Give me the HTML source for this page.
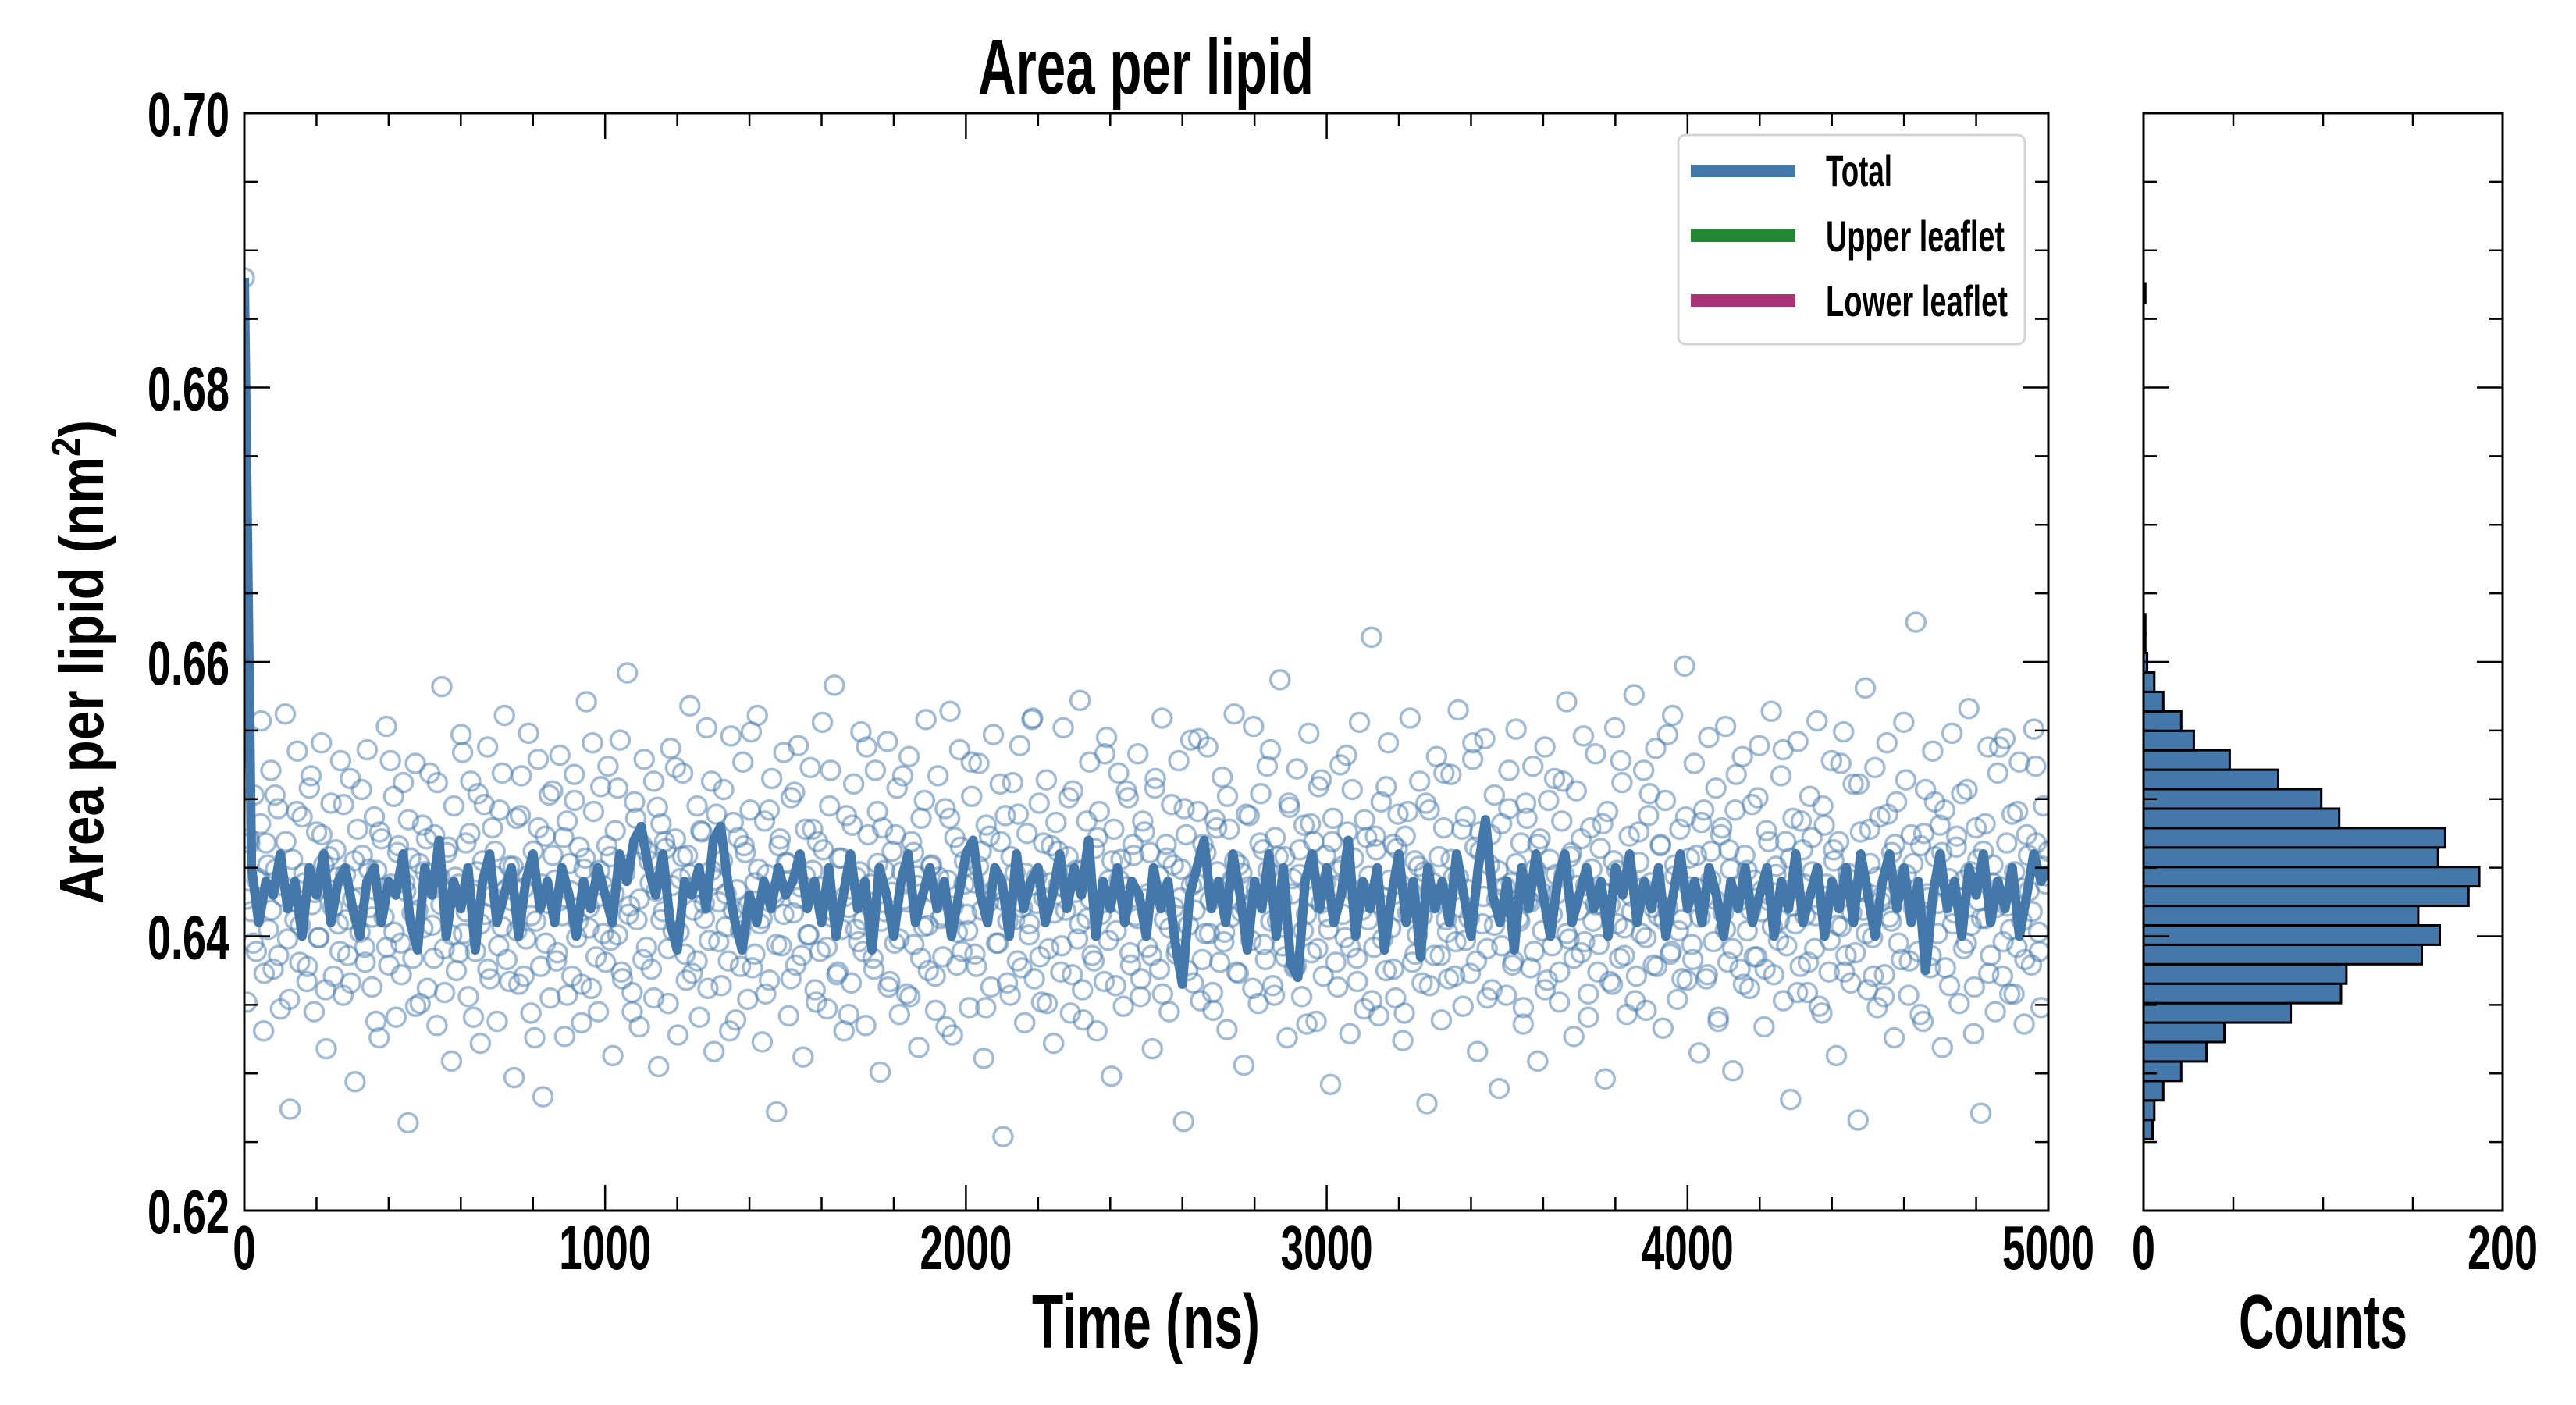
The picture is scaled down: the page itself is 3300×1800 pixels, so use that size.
<!DOCTYPE html>
<html><head><meta charset="utf-8"><style>
html,body{margin:0;padding:0;background:#fff;}
svg{display:block;}
text{font-family:"Liberation Sans Narrow","Liberation Sans",sans-serif;font-weight:bold;fill:#000;}
</style></head><body>
<svg id="chart" width="3300" height="1800" viewBox="0 0 3300 1800" xmlns="http://www.w3.org/2000/svg">
<defs><clipPath id="mainclip"><rect x="313" y="145" width="2311" height="1406"/></clipPath></defs>
<rect x="0" y="0" width="3300" height="1800" fill="#fff"/>
<text x="1468" y="120" font-size="100" text-anchor="middle" textLength="430" lengthAdjust="spacingAndGlyphs">Area per lipid</text>
<g id="scatter" clip-path="url(#mainclip)"></g>
<g id="line" clip-path="url(#mainclip)"></g>
<g id="hist"></g>
<g id="axes"></g>
<text transform="translate(132,848) rotate(-90)" style="font-family:'Liberation Sans',sans-serif" font-size="80" text-anchor="middle" textLength="620" lengthAdjust="spacingAndGlyphs">Area per lipid (nm<tspan font-size="52" dy="-30">2</tspan><tspan dy="30">)</tspan></text>
<text x="1468" y="1727" font-size="98" text-anchor="middle" textLength="292" lengthAdjust="spacingAndGlyphs">Time (ns)</text>
<text x="2976" y="1727" font-size="98" text-anchor="middle" textLength="216" lengthAdjust="spacingAndGlyphs">Counts</text>
<g>
<rect x="2150" y="173" width="444" height="268" rx="9" fill="#fff" stroke="#d4d4d4" stroke-width="3"/>
<g><rect x="2166" y="211" width="134" height="16" fill="#4477aa"/><text x="2339" y="238" font-size="56" textLength="85" lengthAdjust="spacingAndGlyphs">Total</text></g>
<g><rect x="2166" y="294" width="134" height="16" fill="#228833"/><text x="2339" y="322" font-size="56" textLength="229" lengthAdjust="spacingAndGlyphs">Upper leaflet</text></g>
<g><rect x="2166" y="377" width="134" height="16" fill="#aa3377"/><text x="2339" y="405" font-size="56" textLength="233" lengthAdjust="spacingAndGlyphs">Lower leaflet</text></g>
</g>
</svg>
<script>
const lineValues=[.688,.645,.641,.644,.643,.646,.642,.644,.640,.645,
.643,.646,.641,.644,.645,.642,.640,.644,.645,.641,
.644,.643,.646,.641,.639,.645,.643,.647,.640,.644,
.642,.645,.639,.644,.646,.641,.643,.645,.640,.644,
.646,.642,.644,.641,.645,.643,.640,.644,.642,.645,
.643,.641,.646,.644,.647,.648,.645,.643,.646,.641,
.639,.644,.643,.645,.642,.647,.648,.644,.641,.639,
.643,.641,.644,.642,.645,.643,.644,.646,.642,.644,
.641,.645,.640,.643,.646,.642,.644,.639,.645,.643,
.640,.644,.646,.641,.643,.645,.642,.644,.640,.643,
.646,.647,.643,.641,.645,.644,.640,.646,.642,.644,
.645,.641,.643,.646,.642,.645,.643,.647,.640,.644,
.642,.645,.641,.644,.643,.640,.645,.642,.644,.6395,
.6365,.643,.645,.647,.642,.644,.641,.646,.643,.639,
.644,.642,.646,.640,.645,.638,.637,.644,.646,.642,
.645,.641,.643,.647,.640,.644,.642,.645,.639,.643,
.646,.641,.644,.6385,.645,.642,.644,.641,.646,.643,
.640,.645,.6485,.643,.641,.644,.639,.645,.642,.646,
.643,.640,.644,.646,.641,.643,.645,.642,.644,.640,
.645,.643,.646,.641,.644,.642,.645,.640,.643,.646,
.642,.644,.641,.645,.643,.640,.644,.642,.645,.641,
.643,.645,.640,.644,.642,.646,.641,.643,.645,.640,
.644,.642,.645,.641,.646,.643,.640,.644,.646,.642,
.645,.641,.644,.6375,.643,.646,.642,.644,.640,.645,
.643,.646,.641,.644,.642,.645,.640,.643,.646,.644,.645];
const scatterValues=[.688,.6352,.6471,.6418,.6503,.6389,.6442,.6557,.6331,.6468,.6405,.6521,.6376,.6449,.6493,.6347,.6429,.6562,.6398,.6274,.6456,.6412,.6535,.6381,.6487,
.6439,.6367,.6508,.6423,.6345,.6476,.6399,.6541,.6452,.6318,.6434,.6497,.6371,.6463,.6409,.6528,.6357,.6445,.6386,.6515,.6427,.6294,.6478,.6403,.6459,
.6392,.6536,.6421,.6363,.6487,.6448,.6326,.6471,.6414,.6553,.6379,.6438,.6502,.6341,.6466,.6395,.6512,.6433,.6264,.6457,.6384,.6526,.6419,.6351,.6481,
.6447,.6362,.6519,.6408,.6474,.6335,.6443,.6582,.6391,.6461,.6427,.6309,.6495,.6375,.6438,.6547,.6402,.6468,.6356,.6513,.6431,.6389,.6504,.6322,.6455,
.6416,.6538,.6369,.6479,.6444,.6338,.6492,.6407,.6561,.6383,.6451,.6426,.6297,.6486,.6365,.6517,.6435,.6398,.6548,.6344,.6462,.6411,.6529,.6378,.6283,
.6473,.6424,.6355,.6506,.6441,.6388,.6532,.6415,.6327,.6484,.6453,.6371,.6518,.6399,.6465,.6337,.6449,.6571,.6406,.6362,.6491,.6428,.6345,.6509,.6437,
.6381,.6524,.6458,.6313,.6477,.6401,.6543,.6369,.6446,.6592,.6422,.6359,.6498,.6412,.6334,.6467,.6529,.6392,.6455,.6376,.6513,.6433,.6305,.6482,.6418,
.6464,.6351,.6537,.6404,.6471,.6328,.6442,.6519,.6387,.6459,.6568,.6373,.6436,.6495,.6341,.6476,.6413,.6552,.6397,.6448,.6316,.6489,.6425,.6364,.6507,
.6431,.6382,.6546,.6419,.6339,.6472,.6404,.6527,.6461,.6354,.6492,.6377,.6439,.6561,.6409,.6323,.6484,.6445,.6368,.6515,.6428,.6272,.6466,.6393,.6534,
.6454,.6342,.6501,.6417,.6379,.6539,.6436,.6312,.6478,.6401,.6523,.6448,.6361,.6469,.6389,.6556,.6426,.6347,.6495,.6414,.6583,.6372,.6457,.6405,.6331,
.6488,.6421,.6366,.6511,.6443,.6396,.6549,.6412,.6335,.6474,.6438,.6384,.6521,.6453,.6301,.6479,.6418,.6542,.6367,.6462,.6395,.6508,.6343,.6447,.6427,
.6358,.6531,.6469,.6394,.6444,.6319,.6486,.6407,.6558,.6375,.6451,.6432,.6346,.6517,.6413,.6385,.6493,.6441,.6564,.6328,.6472,.6403,.6536,.6389,.6455,
.6416,.6348,.6502,.6439,.6378,.6526,.6462,.6311,.6481,.6425,.6363,.6547,.6434,.6395,.6469,.6254,.6488,.6411,.6357,.6512,.6446,.6382,.6539,.6421,.6337,
.6475,.6409,.6558,.6369,.6443,.6497,.6352,.6428,.6514,.6391,.6466,.6322,.6483,.6437,.6374,.6552,.6419,.6458,.6344,.6506,.6432,.6398,.6572,.6361,.6449,
.6413,.6527,.6386,.6464,.6331,.6491,.6424,.6367,.6545,.6441,.6298,.6478,.6404,.6519,.6456,.6349,.6436,.6501,.6379,.6467,.6415,.6533,.6356,.6484,.6427,
.6392,.6461,.6318,.6508,.6433,.6376,.6559,.6412,.6457,.6345,.6496,.6421,.6387,.6528,.6449,.6265,.6474,.6408,.6543,.6366,.6439,.6491,.6353,.6467,.6402,
.6538,.6426,.6359,.6485,.6447,.6381,.6516,.6403,.6332,.6478,.6441,.6562,.6374,.6452,.6418,.6306,.6489,.6436,.6397,.6553,.6429,.6351,.6504,.6463,.6383,
.6448,.6536,.6364,.6472,.6411,.6587,.6393,.6458,.6326,.6494,.6431,.6377,.6522,.6445,.6356,.6481,.6416,.6548,.6388,.6469,.6338,.6509,.6424,.6371,.6459,
.6414,.6292,.6486,.6437,.6363,.6525,.6451,.6399,.6476,.6329,.6507,.6432,.6384,.6556,.6419,.6347,.6472,.6444,.6618,.6392,.6463,.6342,.6498,.6428,.6375,
.6541,.6406,.6467,.6355,.6489,.6438,.6324,.6473,.6417,.6559,.6381,.6455,.6401,.6513,.6366,.6447,.6278,.6492,.6425,.6386,.6531,.6458,.6339,.6479,.6412,
.6369,.6518,.6443,.6396,.6565,.6421,.6349,.6487,.6434,.6373,.6529,.6465,.6316,.6476,.6409,.6544,.6391,.6452,.6361,.6503,.6427,.6289,.6482,.6418,.6357,
.6493,.6439,.6382,.6551,.6413,.6468,.6336,.6497,.6426,.6377,.6524,.6449,.6309,.6471,.6404,.6538,.6368,.6456,.6393,.6515,.6431,.6352,.6484,.6445,.6571,
.6398,.6461,.6327,.6506,.6419,.6388,.6546,.6437,.6358,.6479,.6411,.6533,.6374,.6464,.6432,.6296,.6491,.6423,.6365,.6552,.6448,.6384,.6512,.6406,.6343,
.6473,.6429,.6576,.6371,.6454,.6402,.6521,.6346,.6488,.6439,.6379,.6537,.6415,.6467,.6333,.6499,.6421,.6387,.6561,.6444,.6354,.6478,.6412,.6597,.6368,
.6457,.6394,.6526,.6435,.6315,.6483,.6428,.6369,.6545,.6462,.6396,.6508,.6341,.6474,.6417,.6553,.6381,.6449,.6302,.6492,.6436,.6376,.6531,.6459,.6404,
.6362,.6496,.6441,.6385,.6539,.6418,.6334,.6477,.6426,.6564,.6372,.6451,.6397,.6517,.6353,.6469,.6433,.6281,.6486,.6409,.6542,.6378,.6463,.6415,.6359,
.6502,.6447,.6391,.6557,.6423,.6344,.6481,.6438,.6374,.6528,.6455,.6313,.6469,.6407,.6549,.6386,.6442,.6366,.6511,.6432,.6266,.6476,.6419,.6581,.6361,
.6453,.6399,.6523,.6348,.6487,.6429,.6372,.6541,.6414,.6461,.6326,.6498,.6437,.6383,.6556,.6445,.6357,.6474,.6421,.6629,.6389,.6466,.6338,.6507,.6428,
.6377,.6535,.6458,.6402,.6481,.6319,.6492,.6434,.6364,.6548,.6417,.6473,.6351,.6504,.6441,.6395,.6566,.6408,.6329,.6479,.6426,.6271,.6462,.6413,.6538,
.6386,.6452,.6345,.6519,.6436,.6371,.6544,.6422,.6358,.6489,.6447,.6392,.6527,.6411,.6336,.6474,.6433,.6379,.6551,.6468,.6403,.6348,.6495,.6438,.6462,
.6427,.6468,.6395,.6441,.6482,.6373,.6452,.6419,.6503,.6386,.6437,.6469,.6354,.6425,.6491,.6408,.6446,.6378,.6517,.6432,.6399,.6474,.6361,.6458,.6421,
.6443,.6389,.6496,.6412,.6366,.6455,.6428,.6507,.6381,.6449,.6414,.6338,.6476,.6435,.6392,.6528,.6403,.6461,.6372,.6439,.6485,.6417,.6349,.6453,.6406,
.6471,.6436,.6384,.6512,.6423,.6359,.6465,.6401,.6443,.6388,.6534,.6418,.6475,.6341,.6447,.6409,.6496,.6376,.6429,.6462,.6393,.6519,.6434,.6367,.6451,
.6404,.6488,.6371,.6444,.6415,.6326,.6479,.6438,.6395,.6503,.6459,.6382,.6426,.6472,.6357,.6433,.6499,.6411,.6365,.6457,.6421,.6541,.6385,.6448,.6402,
.6466,.6397,.6431,.6508,.6374,.6452,.6416,.6345,.6486,.6427,.6383,.6462,.6439,.6355,.6494,.6412,.6469,.6391,.6437,.6523,.6403,.6458,.6368,.6445,.6419,
.6382,.6477,.6424,.6362,.6513,.6441,.6396,.6455,.6407,.6331,.6483,.6434,.6378,.6466,.6422,.6549,.6387,.6449,.6413,.6358,.6492,.6431,.6394,.6471,.6416,
.6453,.6369,.6505,.6428,.6386,.6444,.6401,.6478,.6352,.6436,.6463,.6392,.6521,.6418,.6374,.6457,.6429,.6343,.6481,.6405,.6447,.6389,.6538,.6421,.6376,
.6491,.6411,.6448,.6363,.6432,.6474,.6398,.6517,.6425,.6356,.6461,.6437,.6384,.6499,.6408,.6452,.6371,.6443,.6415,.6334,.6486,.6422,.6379,.6465,.6438,
.6404,.6527,.6387,.6451,.6419,.6348,.6473,.6433,.6395,.6511,.6426,.6366,.6458,.6412,.6489,.6377,.6446,.6401,.6559,.6424,.6385,.6468,.6351,.6439,.6417,
.6462,.6393,.6435,.6501,.6372,.6448,.6409,.6339,.6484,.6427,.6382,.6472,.6416,.6533,.6397,.6455,.6364,.6441,.6423,.6506,.6388,.6459,.6413,.6369,.6476,
.6431,.6386,.6515,.6444,.6358,.6467,.6406,.6452,.6391,.6428,.6493,.6375,.6437,.6419,.6544,.6383,.6461,.6402,.6346,.6479,.6433,.6396,.6502,.6414,.6455,
.6373,.6446,.6421,.6488,.6362,.6435,.6468,.6394,.6524,.6411,.6357,.6458,.6427,.6385,.6497,.6442,.6378,.6463,.6404,.6336,.6482,.6429,.6391,.6514,.6438,
.6405,.6469,.6381,.6448,.6416,.6532,.6392,.6457,.6367,.6434,.6485,.6412,.6353,.6473,.6424,.6398,.6509,.6441,.6376,.6464,.6418,.6344,.6491,.6432,.6387,
.6451,.6415,.6497,.6364,.6439,.6426,.6386,.6519,.6403,.6456,.6371,.6443,.6478,.6397,.6413,.6541,.6382,.6462,.6429,.6355,.6474,.6408,.6448,.6393,.6436,
.6521,.6379,.6453,.6411,.6348,.6486,.6425,.6389,.6467,.6432,.6361,.6499,.6416,.6445,.6374,.6513,.6402,.6458,.6384,.6437,.6471,.6396,.6341,.6449,.6423,
.6394,.6482,.6431,.6367,.6455,.6409,.6528,.6386,.6442,.6418,.6353,.6476,.6435,.6399,.6504,.6421,.6378,.6466,.6412,.6547,.6389,.6452,.6404,.6369,.6487,
.6436,.6383,.6459,.6414,.6492,.6372,.6441,.6427,.6338,.6479,.6405,.6463,.6391,.6518,.6426,.6365,.6448,.6419,.6385,.6501,.6433,.6376,.6469,.6407,.6445,
.6412,.6536,.6393,.6457,.6422,.6359,.6484,.6438,.6381,.6472,.6415,.6349,.6495,.6429,.6397,.6463,.6408,.6526,.6374,.6446,.6417,.6388,.6511,.6434,.6402,
.6478,.6371,.6443,.6425,.6356,.6489,.6411,.6467,.6395,.6437,.6514,.6382,.6453,.6419,.6343,.6475,.6431,.6386,.6498,.6424,.6461,.6377,.6442,.6409,.6465,
.6428,.6391,.6507,.6447,.6363,.6456,.6413,.6482,.6373,.6439,.6421,.6538,.6396,.6468,.6405,.6358,.6491,.6435,.6383,.6459,.6418,.6524,.6389,.6451,.6444];
const histCounts=[5,6,11,21,35,45,82,110,113,155,165,153,181,187,164,168,109,99,75,48,28,21,11,6,2,1,1,0,0,0,0,0,0,0,0,0,0,0,0,0,0,0,0,1];
const histBinStart=0.6252;
const histBinWidth=0.001418;
const xTicks=[0,1000,2000,3000,4000,5000];
const xTickLabels=["0","1000","2000","3000","4000","5000"];
const yTicks=[0.62,0.64,0.66,0.68,0.70];
const yTickLabels=["0.62","0.64","0.66","0.68","0.70"];
const countTicks=[0,200];
const countTickLabels=["0","200"];
const tMax=5000;

const NS="http://www.w3.org/2000/svg";
const L=313,R=2624,T=145,B=1551,HL=2746,HR=3206;
const xScale=t=>L+(t/tMax)*(R-L);
const yScale=v=>B-(v-0.62)/(0.70-0.62)*(B-T);
const cScale=c=>HL+(c/200)*(HR-HL);
function mk(tag,attrs,parent){const e=document.createElementNS(NS,tag);for(const k in attrs)e.setAttribute(k,attrs[k]);parent.appendChild(e);return e;}

// scatter (first 750 samples + 500 interleaved extra samples)
const sg=document.getElementById('scatter');
const nMain=750;
scatterValues.forEach((v,i)=>{
  let t;
  if(i<nMain){t=i*tMax/(nMain-1);}else{t=((i-nMain)+0.5)*tMax/(scatterValues.length-nMain);}
  const c=mk('circle',{cx:xScale(t),cy:yScale(v),r:12,fill:'none',stroke:'rgba(68,119,170,0.5)','stroke-width':3.5},sg);
  
  
});
// line
const lg=document.getElementById('line');
const ldt=tMax/(lineValues.length-1);
const pts=lineValues.map((v,i)=>xScale(i*ldt).toFixed(1)+','+yScale(v).toFixed(1)).join(' ');
const pl=mk('polyline',{points:pts,fill:'none',stroke:'#4477aa','stroke-width':12,'stroke-linejoin':'round'},lg);


// hist
const hg=document.getElementById('hist');
histCounts.forEach((c,i)=>{
  if(c<=0)return;
  const y1=yScale(histBinStart+(i+1)*histBinWidth),y0=yScale(histBinStart+i*histBinWidth);
  const r=mk('rect',{x:HL,y:y1,width:Math.max(cScale(c)-HL,1),height:y0-y1,fill:'#4477aa',stroke:'#000','stroke-width':3},hg);
  
  
});
// axes
const ag=document.getElementById('axes');
function line(x1,y1,x2,y2,w){mk('line',{x1,y1,x2,y2,stroke:'#000','stroke-width':w},ag);}
function txt(x,y,s,anchor,size,len){const t=mk('text',{x,y,'font-size':size,'text-anchor':anchor,textLength:len,lengthAdjust:'spacingAndGlyphs'},ag);t.textContent=s;return t;}
const mf=mk('rect',{x:L,y:T,width:R-L,height:B-T,fill:'none',stroke:'#000','stroke-width':3},ag);


const hf=mk('rect',{x:HL,y:T,width:HR-HL,height:B-T,fill:'none',stroke:'#000','stroke-width':3},ag);


for(let t=0;t<=tMax;t+=200){const x=xScale(t);const len=(t%1000===0)?33:17;line(x,B,x,B-len,2.5);line(x,T,x,T+len,2.5);}
xTicks.forEach((t,i)=>{const s=xTickLabels[i];const el=txt(xScale(t),1626,s,'middle',80,s.length*29.5);});
for(let k=0;k<=16;k++){const v=0.62+k*0.005;const y=yScale(v);const len=(k%4===0)?33:17;
  line(L,y,L+len,y,2.5);line(R,y,R-len,y,2.5);line(HL,y,HL+len,y,2.5);line(HR,y,HR-len,y,2.5);}
yTicks.forEach((v,i)=>{const el=txt(294,yScale(v)+29,yTickLabels[i],'end',80,105);});
for(let c=50;c<200;c+=50){const x=cScale(c);line(x,B,x,B-17,2.5);line(x,T,x,T+17,2.5);}
countTicks.forEach((c,i)=>{const s=countTickLabels[i];const el=txt(cScale(c),1626,s,'middle',80,s.length*30);});
</script>
</body></html>
